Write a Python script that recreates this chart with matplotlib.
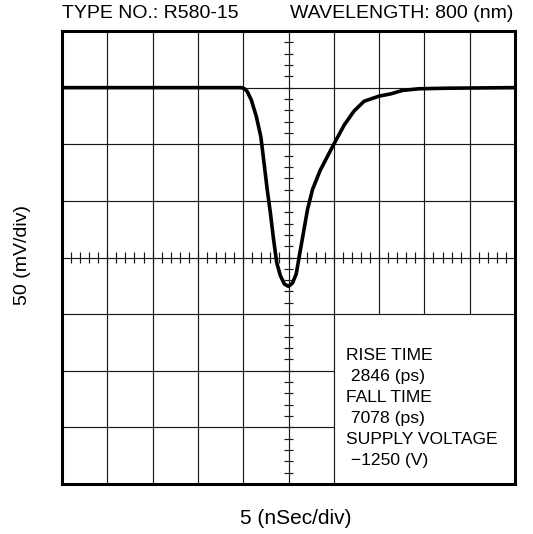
import matplotlib
matplotlib.use("Agg")
import matplotlib.pyplot as plt

plt.rcParams["font.family"] = ["Liberation Sans", "DejaVu Sans"]

# pulse trace, in screen divisions (10 x 8 graticule)
t_div = [0.0, 3.60, 3.96, 4.03, 4.09, 4.18, 4.29, 4.39, 4.46, 4.53, 4.60,
         4.67, 4.74, 4.82, 4.91, 5.00, 5.09, 5.17, 5.24, 5.33, 5.42, 5.53,
         5.70, 6.00, 6.23, 6.45, 6.67, 7.00, 7.26, 7.51, 7.88, 8.53, 10.0]
v_div = [7.00, 7.00, 7.00, 6.98, 6.93, 6.78, 6.49, 6.13, 5.67, 5.20, 4.79,
         4.32, 3.91, 3.68, 3.53, 3.49, 3.55, 3.71, 4.03, 4.44, 4.85, 5.20,
         5.54, 6.00, 6.34, 6.59, 6.76, 6.85, 6.89, 6.95, 6.98, 6.99, 7.00]

type_no = "TYPE NO.: R580-15"
wavelength = "WAVELENGTH: 800 (nm)"
info_lines = ["RISE TIME", " 2846 (ps)", "FALL TIME", " 7078 (ps)",
              "SUPPLY VOLTAGE", " \u22121250 (V)"]
x_label = "5 (nSec/div)"
y_label = "50 (mV/div)"

W, H = 533, 534
fig = plt.figure(figsize=(W / 100, H / 100), dpi=100)
ax = fig.add_axes([62 / W, (H - 484) / H, 453 / W, 453 / H])
ax.set_xlim(0, 10)
ax.set_ylim(0, 8)
ax.set_xticks([])
ax.set_yticks([])
for s in ax.spines.values():
    s.set_linewidth(2.2)

gc = "#1a1a1a"
glw = 0.85
# grid, with the lower right corner left blank for the info text
for x in range(1, 10):
    bottom = 3 if x in (7, 8, 9) else 0
    ax.vlines(x, bottom, 8, color=gc, lw=glw, zorder=1)
for y in range(1, 8):
    right = 6 if y in (1, 2) else 10
    ax.hlines(y, 0, right, color=gc, lw=glw, zorder=1)

# minor ticks on the centre axes
minor = [i * 0.2 for i in range(1, 50)]
ax.vlines(minor, 4 - 0.09, 4 + 0.09, color=gc, lw=glw, zorder=1)
minor_y = [i * 0.2 for i in range(1, 40)]
ax.hlines(minor_y, 5 - 0.1, 5 + 0.1, color=gc, lw=glw, zorder=1)

ax.plot(t_div, v_div, color="black", lw=2.6, solid_joinstyle="round",
        solid_capstyle="round", zorder=3)

fig.text(239 / W, 1 - 14 / H, type_no, fontsize=14, va="center", ha="right")
fig.text(513 / W, 1 - 14 / H, wavelength, fontsize=14, va="center", ha="right")
fig.text(296 / W, 1 - 519 / H, x_label, fontsize=15, va="center", ha="center")
fig.text(23 / W, 1 - 255 / H, y_label, fontsize=14, va="center", ha="center",
         rotation=90)
for i, line in enumerate(info_lines):
    fig.text(346 / W, 1 - (355.5 + i * 21.1) / H, line, fontsize=12.6,
             va="center", ha="left")

fig.savefig("out.png", dpi=100)
